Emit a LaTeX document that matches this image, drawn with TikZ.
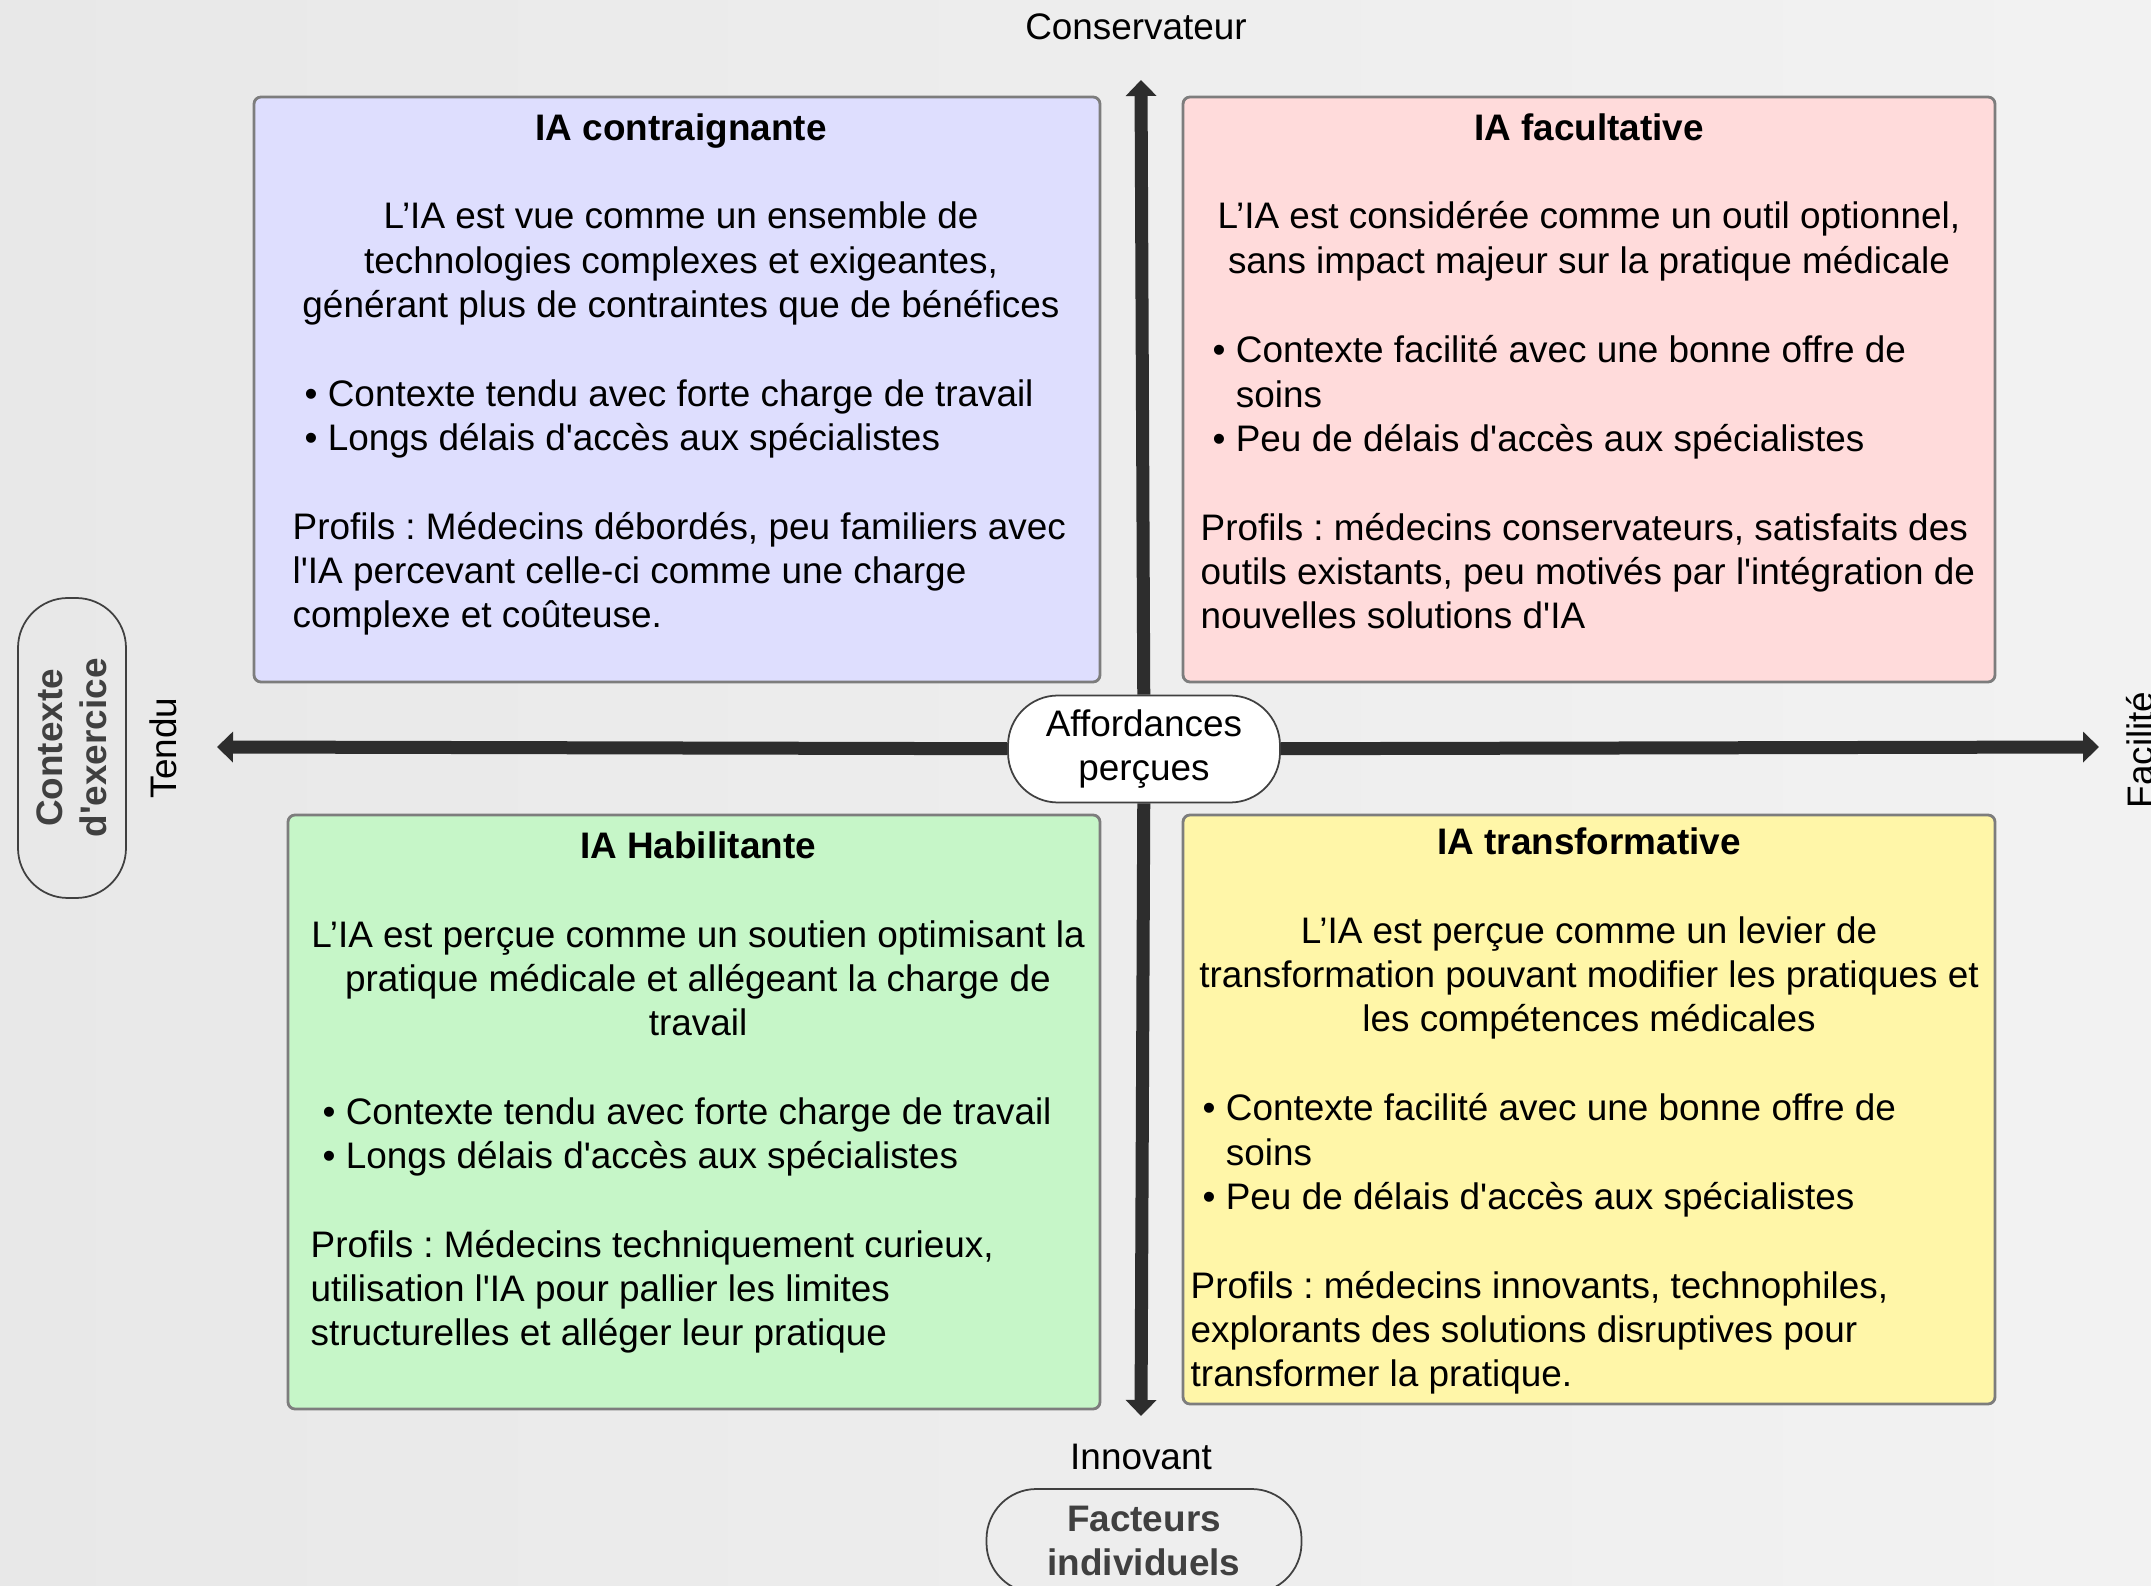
\documentclass[tikz,border=0pt]{standalone}
\usepackage{fontspec}
\setmainfont{Liberation Sans}
\usepackage{tikz}
\usetikzlibrary{arrows.meta}
\definecolor{boxblue}{RGB}{222,222,254}
\definecolor{boxpink}{RGB}{255,219,219}
\definecolor{boxgreen}{RGB}{198,246,200}
\definecolor{boxyellow}{RGB}{255,246,168}
\definecolor{axisgray}{RGB}{45,45,45}
\definecolor{labelgray}{RGB}{64,64,64}
\definecolor{framegray}{RGB}{125,125,125}
\newcommand{\taille}{\fontsize{10.5}{12.6}\selectfont}
\newcommand{\apos}{\textquotesingle}
\newcommand{\puce}{\hspace*{0.12cm}\textbullet\ }
\newcommand{\pucesuite}{\hspace*{0.12cm}\phantom{\textbullet\ }}
\frenchspacing

\begin{document}
\begin{tikzpicture}[>=Stealth,
  quad/.style={draw=framegray, line width=0.8pt, rounded corners=2pt, inner sep=0pt},
  head/.style={anchor=north, align=center, inner sep=0pt, font=\taille},
  body/.style={anchor=north west, align=left, inner sep=0pt, font=\taille},
  label/.style={inner sep=1pt, font=\taille},
  pill/.style={draw=black!75, line width=0.5pt, rounded corners=0.5cm, inner sep=0pt, align=center},
  axe/.style={-{Triangle[width=0.3cm,length=0.16cm]}, axisgray, line width=0.13cm}]

\useasboundingbox (0,0) rectangle (21.51,-15.86);
\shade[left color=black!9, middle color=black!1, right color=black!5] (0,0) rectangle (21.51,-15.86);

% quadrants
\node[quad, fill=boxblue, minimum width=8.46cm, minimum height=5.85cm] (contr) at (6.77,-3.895) {};
\node[quad, fill=boxpink, minimum width=8.12cm, minimum height=5.85cm] (facul) at (15.89,-3.895) {};
\node[quad, fill=boxgreen, minimum width=8.12cm, minimum height=5.94cm] (habil) at (6.94,-11.12) {};
\node[quad, fill=boxyellow, minimum width=8.12cm, minimum height=5.89cm] (trans) at (15.89,-11.095) {};

% axes
\node[pill, fill=white, minimum width=2.72cm, minimum height=1.07cm, font=\taille] (aff) at (11.44,-7.49) {Affordances\\perçues};
\coordinate (haut) at (11.41,-0.80);
\coordinate (bas) at (11.41,-14.16);
\coordinate (gauche) at (2.17,-7.47);
\coordinate (droite) at (20.99,-7.47);
\draw[axe] (aff) -- (haut);
\draw[axe] (aff) -- (bas);
\draw[axe] (aff) -- (gauche);
\draw[axe] (aff) -- (droite);

\node[label] (conserv) at (11.36,-0.27) {Conservateur};
\node[label] (innov) at (11.41,-14.57) {Innovant};
\node[label, rotate=90] (tendu) at (1.63,-7.48) {Tendu};
\node[label, rotate=90, anchor=base] (facil) at (21.53,-7.50) {Facilité};

\node[pill, rotate=90, minimum width=3.0cm, minimum height=1.08cm, font=\taille\bfseries, text=labelgray] (contexte) at (0.72,-7.48) {Contexte\\d\apos exercice};
\node[pill, minimum width=3.15cm, minimum height=1.04cm, font=\taille\bfseries, text=labelgray] (facteurs) at (11.44,-15.41) {Facteurs\\individuels};

% IA contraignante
\node[head] (contr-t) at (6.81,-1.13) {\textbf{IA contraignante}\\[12.6pt]
  L’IA est vue comme un ensemble de\\
  technologies complexes et exigeantes,\\
  générant plus de contraintes que de bénéfices};
\node[body] (contr-b) at (2.92,-3.79) {\puce Contexte tendu avec forte charge de travail\\
  \puce Longs délais d\apos accès aux spécialistes\\[12.6pt]
  Profils : Médecins débordés, peu familiers avec\\
  l\apos IA percevant celle-ci comme une charge\\
  complexe et coûteuse.};

% IA facultative
\node[head] (facul-t) at (15.89,-1.13) {\textbf{IA facultative}\\[12.6pt]
  L’IA est considérée comme un outil optionnel,\\
  sans impact majeur sur la pratique médicale};
\node[body] (facul-b) at (12.00,-3.35) {\puce Contexte facilité avec une bonne offre de\\
  \pucesuite soins\\
  \puce Peu de délais d\apos accès aux spécialistes\\[12.6pt]
  Profils : médecins conservateurs, satisfaits des\\
  outils existants, peu motivés par l\apos intégration de\\
  nouvelles solutions d\apos IA};

% IA Habilitante
\node[head] (habil-t) at (6.98,-8.31) {\textbf{IA Habilitante}\\[12.6pt]
  L’IA est perçue comme un soutien optimisant la\\
  pratique médicale et allégeant la charge de\\
  travail};
\node[body] (habil-b) at (3.10,-10.97) {\puce Contexte tendu avec forte charge de travail\\
  \puce Longs délais d\apos accès aux spécialistes\\[12.6pt]
  Profils : Médecins techniquement curieux,\\
  utilisation l\apos IA pour pallier les limites\\
  structurelles et alléger leur pratique};

% IA transformative
\node[head] (trans-t) at (15.89,-8.27) {\textbf{IA transformative}\\[12.6pt]
  L’IA est perçue comme un levier de\\
  transformation pouvant modifier les pratiques et\\
  les compétences médicales};
\node[body] (trans-b) at (11.90,-10.93) {\puce Contexte facilité avec une bonne offre de\\
  \pucesuite soins\\
  \puce Peu de délais d\apos accès aux spécialistes\\[12.6pt]
  Profils : médecins innovants, technophiles,\\
  explorants des solutions disruptives pour\\
  transformer la pratique.};

\end{tikzpicture}
\end{document}
